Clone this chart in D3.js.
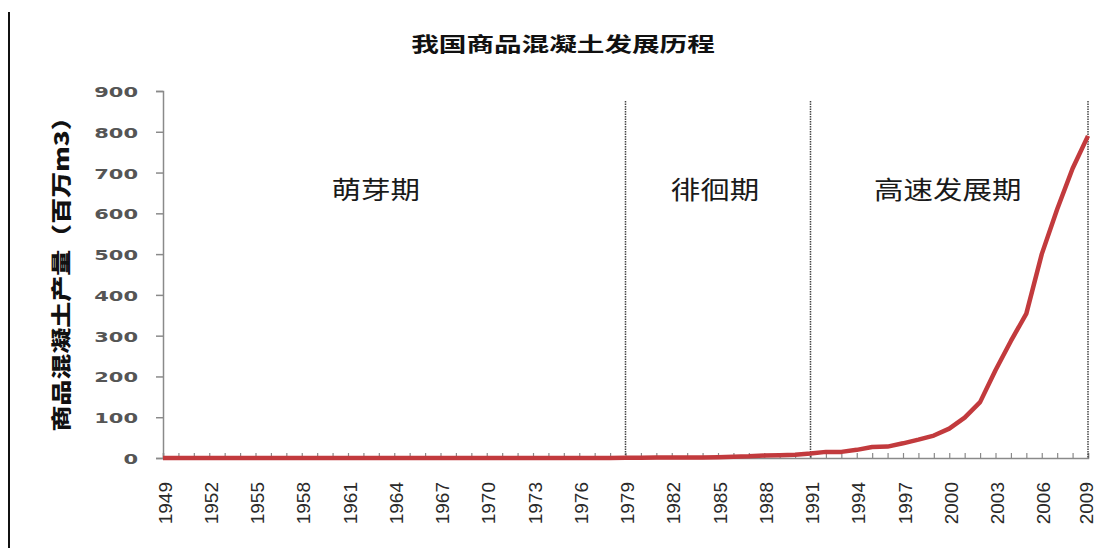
<!DOCTYPE html>
<html>
<head>
<meta charset="utf-8">
<script src="https://cdn.jsdelivr.net/npm/d3@7"></script>
<style>
  body { margin: 0; background: #fff; }
  svg { display: block; }
</style>
</head>
<body>
<svg id="svg_elem"></svg>
<script>
//chart text
const chartTitle = '我国商品混凝土发展历程';
const yTitle = '商品混凝土产量（百万m3）';

//categories: years 1949 - 2009
const years = d3.range(1949, 2010);

//output, million m3
const output = [
  0, 0, 0, 0, 0, 0, 0, 0, 0, 0,        // 1949-1958
  0, 0, 0, 0, 0, 0, 0, 0, 0, 0,        // 1959-1968
  0, 0, 0, 0, 0, 0, 0, 0, 0, 0,        // 1969-1978
  0.5, 0.8, 1, 1, 1.2, 1.5, 2, 3, 4, 6, // 1979-1988
  7, 8, 11, 15, 15, 20, 27, 28, 36, 45, // 1989-1998
  55, 72, 99, 137, 215, 287, 354, 500, 610, 710, // 1999-2008
  790                                   // 2009
];

//period boundaries, names and where the names sit (year)
const boundaries = [1979, 1991, 2009];
const periodNames = ['萌芽期', '徘徊期', '高速发展期'];
const periodLabelYears = [1962.8, 1984.8, 1999.9];

//y ticks
const yTicks = [0, 100, 200, 300, 400, 500, 600, 700, 800, 900];
//labelled years
const xLabelYears = years.filter(d => (d - 1949) % 3 === 0);

const data = years.map((y, i) => ({year: y, value: output[i]}));

//svg size
const svgWidth = 1098;
const svgHeight = 548;

const svg = d3.select('#svg_elem')
  .attr('width', svgWidth)
  .attr('height', svgHeight);

//frame line on the left
svg.append('line')
  .attr('x1', 9).attr('x2', 9)
  .attr('y1', 12).attr('y2', svgHeight)
  .attr('stroke', '#111')
  .attr('stroke-width', 2);

//scales
const xScale = d3.scaleLinear()
  .domain([1949, 2009])
  .range([163, 1088]);
const yScale = d3.scaleLinear()
  .domain([0, 900])
  .range([458, 91]);

//y axis
const yAxis = svg.append('g')
  .attr('transform', `translate(${xScale(1949)},0)`)
  .call(d3.axisLeft(yScale).tickValues(yTicks).tickSize(7).tickFormat(''));
yAxis.select('.domain').attr('stroke', '#8a8a8a').attr('stroke-width', 1.5);
yAxis.selectAll('.tick line').attr('stroke', '#8a8a8a').attr('stroke-width', 1.5);

svg.append('g').selectAll('g')
  .data(yTicks)
  .enter()
  .append('g')
    .attr('transform', d => `translate(138,${yScale(d) + 1}) scale(1.5,1)`)
  .append('text')
    .attr('text-anchor', 'end')
    .attr('dy', '0.36em')
    .style('font-family', 'DejaVu Sans')
    .style('font-weight', '600')
    .style('font-size', '14px')
    .attr('fill', '#555')
    .text(d => d);

//x axis, tick every year pointing inside
const xAxis = svg.append('g')
  .attr('transform', `translate(0,${yScale(0)})`)
  .call(d3.axisBottom(xScale).tickValues(years).tickSize(-5).tickFormat(''));
xAxis.select('.domain').attr('stroke', '#8a8a8a').attr('stroke-width', 1.5);
xAxis.selectAll('.tick line').attr('stroke', '#8a8a8a').attr('stroke-width', 1.2);

//year labels, the last one kept inside the picture
svg.append('g').selectAll('text')
  .data(xLabelYears)
  .enter()
  .append('text')
    .attr('transform', d => `translate(${Math.min(xScale(d) + 2, 1086)},482) rotate(-90)`)
    .attr('text-anchor', 'end')
    .attr('dominant-baseline', 'central')
    .style('font-family', 'Liberation Sans')
    .style('font-size', '19px')
    .attr('fill', '#2a2a2a')
    .text(d => d);

//period boundary lines
svg.append('g').selectAll('line')
  .data(boundaries)
  .enter()
  .append('line')
    .attr('x1', d => xScale(d)).attr('x2', d => xScale(d))
    .attr('y1', 101).attr('y2', yScale(0))
    .attr('stroke', '#444')
    .attr('stroke-width', 1.5)
    .attr('stroke-dasharray', '1.5,1');

//period names
svg.append('g').selectAll('g')
  .data(periodNames)
  .enter()
  .append('g')
    .attr('transform', (d, i) => `translate(${xScale(periodLabelYears[i])},190) scale(1.18,1)`)
  .append('text')
    .attr('text-anchor', 'middle')
    .attr('dy', '0.36em')
    .style('font-family', 'Noto Sans CJK SC')
    .style('font-size', '25px')
    .attr('fill', '#1a1a1a')
    .text(d => d);

//line
const line = d3.line()
  .x(d => xScale(d.year))
  .y(d => yScale(d.value));

svg.append('path')
  .datum(data)
  .attr('d', line)
  .attr('fill', 'none')
  .attr('stroke', '#c23a3d')
  .attr('stroke-width', 4.5)
  .attr('stroke-linejoin', 'round');

//title
svg.append('g')
  .attr('transform', 'translate(563,45) scale(1.38,1)')
  .append('text')
    .attr('text-anchor', 'middle')
    .attr('dy', '0.36em')
    .style('font-family', 'Noto Sans CJK SC')
    .style('font-weight', 'bold')
    .style('font-size', '20px')
    .attr('fill', '#111')
    .text(chartTitle);

//y title
svg.append('g')
  .attr('transform', 'translate(62,268) rotate(-90) scale(1,0.78)')
  .append('text')
    .attr('text-anchor', 'middle')
    .attr('dy', '0.36em')
    .style('font-family', 'Noto Sans CJK SC')
    .style('font-weight', '900')
    .style('font-size', '26px')
    .attr('fill', '#111')
    .text(yTitle);
</script>
</body>
</html>
